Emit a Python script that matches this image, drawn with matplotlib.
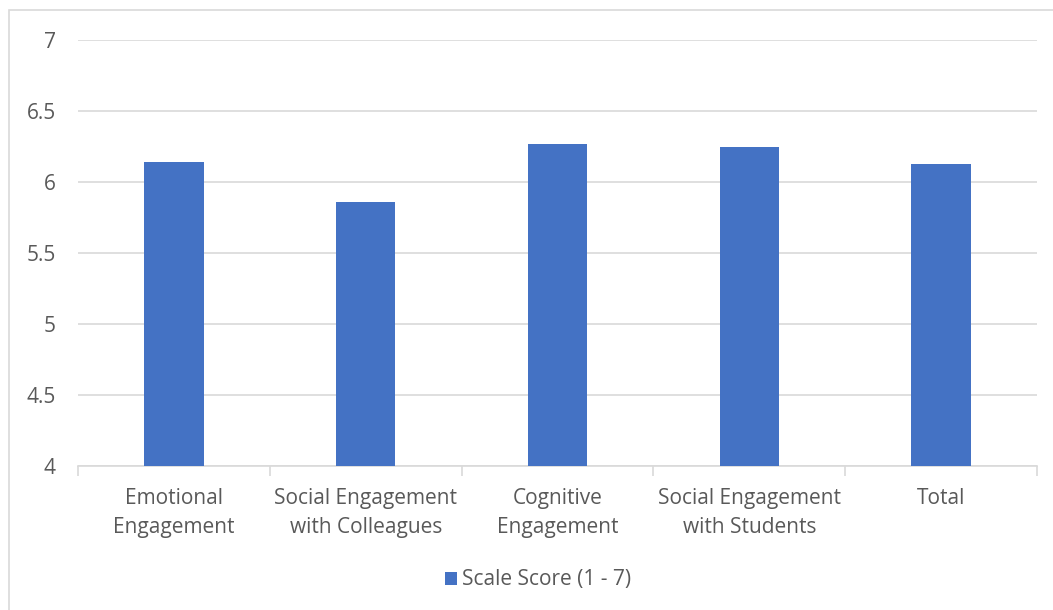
import matplotlib.pyplot as plt
from matplotlib.patches import Rectangle

categories = ['Emotional\nEngagement', 'Social Engagement\nwith Colleagues', 'Cognitive\nEngagement',
              'Social Engagement\nwith Students', 'Total']
scores = [6.14, 5.86, 6.27, 6.25, 6.13]
series_name = 'Scale Score (1 - 7)'
y_ticks = [4, 4.5, 5, 5.5, 6, 6.5, 7]
y_tick_labels = ['4', '4.5', '5', '5.5', '6', '6.5', '7']

plt.rcParams['font.family'] = ['Open Sans', 'DejaVu Sans']
fs = 15

fig = plt.figure(figsize=(10.53, 6.10), dpi=100)
ax = fig.add_axes([78 / 1053, 1 - 466 / 610, (1037 - 78) / 1053, (466 - 40) / 610])

# outer chart border
fig.patches.append(Rectangle((9 / 1053, -0.01), 1.0, 1 - 10 / 610 + 0.01, transform=fig.transFigure,
                             fill=False, edgecolor='#D9D9D9', linewidth=1.2))

x = list(range(len(categories)))
ax.bar(x, scores, width=0.31, color='#4472C4', label=series_name, zorder=3)

ax.set_xlim(-0.5, len(categories) - 0.5)
ax.set_ylim(4, 7)
ax.set_yticks(y_ticks)
ax.set_yticklabels(y_tick_labels)
ax.yaxis.grid(True, color='#D9D9D9', linewidth=1.2, zorder=0)

ax.set_xticks(x)
ax.set_xticklabels(categories, linespacing=1.5)
ax.tick_params(axis='x', length=0, pad=16, labelsize=fs, colors='#595959')
ax.tick_params(axis='y', length=0, pad=16, labelsize=fs, colors='#595959')

# category separator ticks
ax.set_xticks([i - 0.5 for i in range(len(categories) + 1)], minor=True)
ax.tick_params(axis='x', which='minor', length=7, width=1.2, color='#D9D9D9', direction='out')

for side in ['top', 'right', 'left']:
    ax.spines[side].set_visible(False)
ax.spines['bottom'].set_color('#D9D9D9')
ax.spines['bottom'].set_linewidth(1.2)

leg = fig.legend(loc='center', bbox_to_anchor=(538 / 1053, 1 - 580 / 610), frameon=False,
                 fontsize=fs, handlelength=0.6, handleheight=0.6, handletextpad=0.25)
for t in leg.get_texts():
    t.set_color('#595959')

fig.savefig('out.png', dpi=100)
